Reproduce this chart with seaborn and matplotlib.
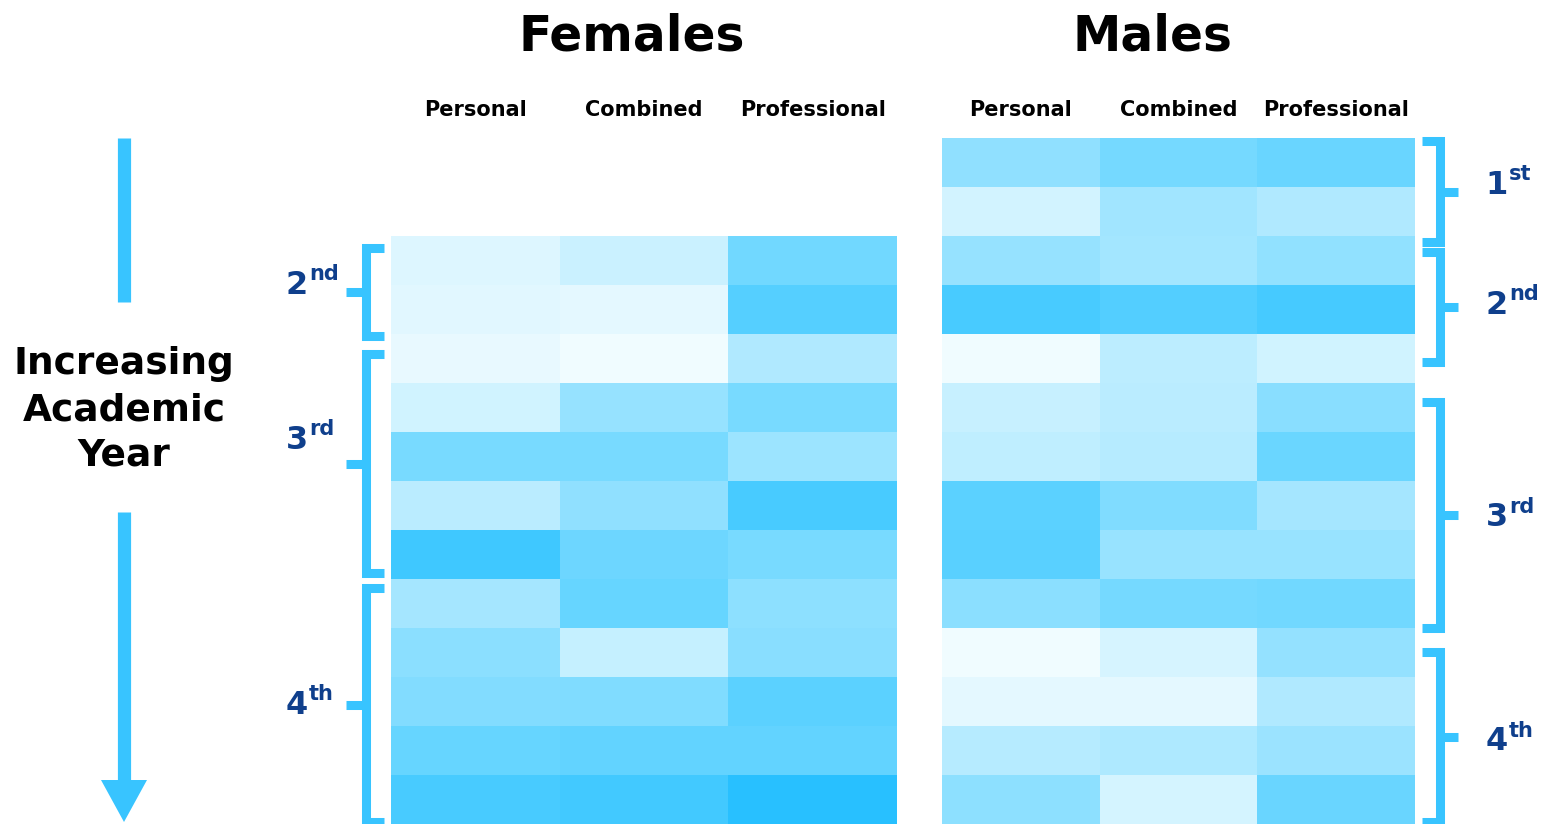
import numpy as np
import pandas as pd
import matplotlib
matplotlib.use("Agg")
import matplotlib.pyplot as plt
from matplotlib.colors import LinearSegmentedColormap
from matplotlib.patches import FancyArrow
import seaborn as sns

# ---------------- data ----------------
categories = ["Personal", "Combined", "Professional"]
rows = [f"r{i}" for i in range(1, 15)]

fem_personal     = [np.nan, np.nan, 0.10, 0.08, 0.05, 0.16, 0.57, 0.26, 0.83, 0.36, 0.48, 0.52, 0.65, 0.79]
fem_combined     = [np.nan, np.nan, 0.19, 0.07, 0.01, 0.43, 0.57, 0.46, 0.62, 0.65, 0.21, 0.53, 0.67, 0.82]
fem_professional = [np.nan, np.nan, 0.60, 0.73, 0.31, 0.57, 0.40, 0.79, 0.57, 0.47, 0.49, 0.70, 0.67, 0.94]

male_personal     = [0.46, 0.15, 0.43, 0.79, 0.01, 0.20, 0.24, 0.70, 0.71, 0.48, 0.01, 0.07, 0.28, 0.47]
male_combined     = [0.58, 0.38, 0.37, 0.74, 0.25, 0.26, 0.28, 0.53, 0.42, 0.58, 0.13, 0.07, 0.32, 0.14]
male_professional = [0.64, 0.31, 0.45, 0.80, 0.16, 0.49, 0.63, 0.36, 0.42, 0.60, 0.44, 0.31, 0.41, 0.64]

panel_titles = ["Females", "Males"]
year_labels_f = [("2", "nd"), ("3", "rd"), ("4", "th")]
year_labels_m = [("1", "st"), ("2", "nd"), ("3", "rd"), ("4", "th")]
side_text = "Increasing\nAcademic\nYear"

fem = pd.DataFrame({"Personal": fem_personal, "Combined": fem_combined,
                    "Professional": fem_professional}, index=rows)
male = pd.DataFrame({"Personal": male_personal, "Combined": male_combined,
                     "Professional": male_professional}, index=rows)

# ---------------- style ----------------
sns.set_style("white")
plt.rcParams["font.family"] = ["DejaVu Sans"]

cmap = LinearSegmentedColormap.from_list(
    "skyblue",
    [(0.0, (242/255, 252/255, 1.0)),
     (0.2, (199/255, 240/255, 1.0)),
     (0.43, (150/255, 226/255, 1.0)),
     (0.66, (100/255, 212/255, 1.0)),
     (0.94, (40/255, 192/255, 1.0)),
     (1.0, (30/255, 188/255, 1.0))])

W, H = 1551, 824
fig = plt.figure(figsize=(W / 100, H / 100), dpi=100)

ov = fig.add_axes([0, 0, 1, 1])
ov.set_xlim(0, W)
ov.set_ylim(H, 0)
ov.axis("off")

def px_axes(x0, y0, x1, y1):
    return fig.add_axes([x0 / W, 1 - y1 / H, (x1 - x0) / W, (y1 - y0) / H])

ax_f = px_axes(391, 138, 897, 824)
ax_m = px_axes(942, 138, 1415, 824)

for ax, df, title, tx in [(ax_f, fem, panel_titles[0], 632), (ax_m, male, panel_titles[1], 1152)]:
    sns.heatmap(df, ax=ax, cmap=cmap, vmin=0, vmax=1, cbar=False,
                xticklabels=categories, yticklabels=False, linewidths=0)
    ax.xaxis.tick_top()
    ax.tick_params(axis="x", length=0, pad=13)
    for lab in ax.get_xticklabels():
        lab.set_fontsize(15)
        lab.set_fontweight("heavy")
        lab.set_color("black")
        lab.set_rotation(0)
    ax.set_xlabel("")
    ax.set_ylabel("")
    for s in ax.spines.values():
        s.set_visible(False)
    ov.text(tx, 36, title, ha="center", va="center", fontsize=35,
            fontweight="heavy", color="black")

BR = "#38C4FF"
LBL = "#0F3F8C"
lw = 6.5

# female brackets (left side, opening right)
f_brackets = [(248, 336), (354, 573), (588, 822)]
f_label_y = [285, 440, 705]
for (y0, y1), (num, sup), ly in zip(f_brackets, year_labels_f, f_label_y):
    xv = 366
    ov.plot([xv + 18, xv, xv, xv + 18], [y0, y0, y1, y1], color=BR, lw=lw,
            solid_joinstyle="miter", solid_capstyle="butt")
    ym = (y0 + y1) / 2
    ov.plot([xv - 20, xv], [ym, ym], color=BR, lw=lw, solid_capstyle="butt")
    ov.text(308, ly, num, ha="right", va="center", fontsize=23,
            fontweight="heavy", color=LBL)
    ov.text(309, ly - 11, sup, ha="left", va="center", fontsize=15,
            fontweight="heavy", color=LBL)

# male brackets (right side, opening left)
m_brackets = [(141, 242), (252, 362), (402, 628), (652, 822)]
m_label_y = [185, 305, 518, 742]
for (y0, y1), (num, sup), ly in zip(m_brackets, year_labels_m, m_label_y):
    xv = 1440
    ov.plot([xv - 18, xv, xv, xv - 18], [y0, y0, y1, y1], color=BR, lw=lw,
            solid_joinstyle="miter", solid_capstyle="butt")
    ym = (y0 + y1) / 2
    ov.plot([xv, xv + 18], [ym, ym], color=BR, lw=lw, solid_capstyle="butt")
    ov.text(1508, ly, num, ha="right", va="center", fontsize=23,
            fontweight="heavy", color=LBL)
    ov.text(1509, ly - 11, sup, ha="left", va="center", fontsize=15,
            fontweight="heavy", color=LBL)

# left arrow with text
ov.plot([124, 124], [138, 302], color=BR, lw=9.5, solid_capstyle="butt")
ov.plot([124, 124], [512, 790], color=BR, lw=9.5, solid_capstyle="butt")
ov.add_patch(FancyArrow(124, 780, 0, 42, width=0.1, head_width=46, head_length=42,
                        length_includes_head=True, color=BR, lw=0))
ov.text(124, 410, side_text, ha="center", va="center", fontsize=27,
        fontweight="heavy", color="black", linespacing=1.35)

fig.savefig("out.png", dpi=100)
